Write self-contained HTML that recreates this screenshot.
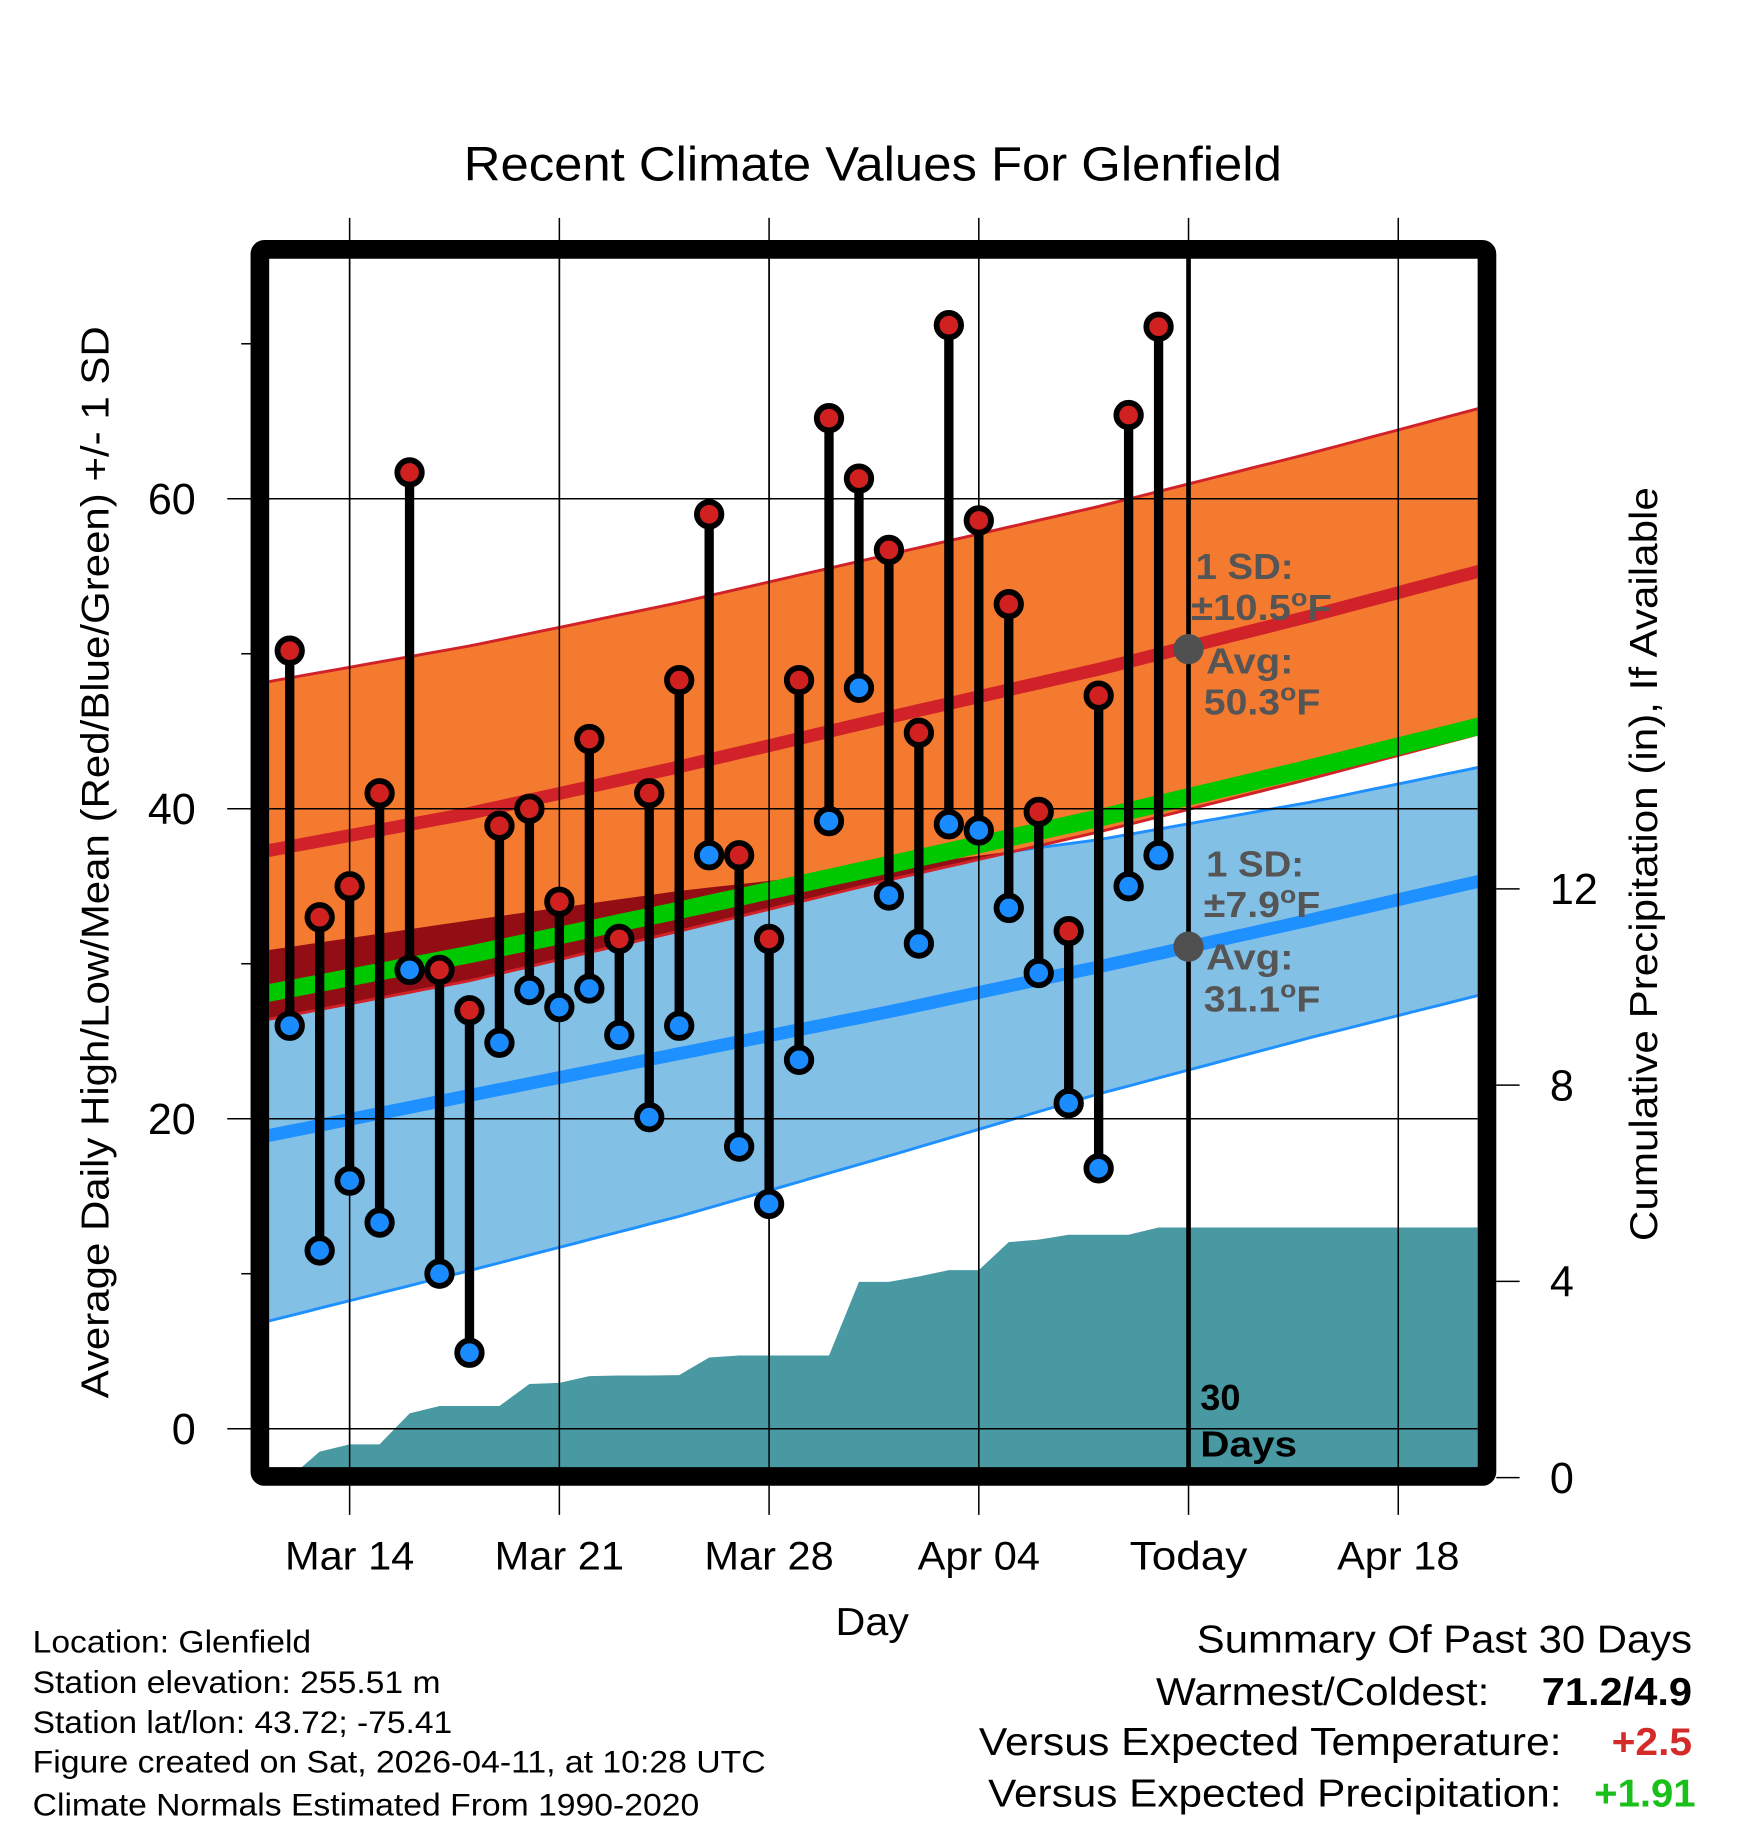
<!DOCTYPE html>
<html><head><meta charset="utf-8">
<style>
html,body{margin:0;padding:0;background:#fff;}
svg{display:block;font-family:"Liberation Sans",Arial,sans-serif;}
</style></head>
<body>
<svg id="chart" width="1748" height="1828" viewBox="0 0 1500 1568.65" preserveAspectRatio="none" xmlns="http://www.w3.org/2000/svg">
<defs>
 <clipPath id="plotClip"><rect x="231" y="218" width="1037" height="1042"/></clipPath>
 <clipPath id="blueClip"><path id="blueClipPath" d=""/></clipPath>
</defs>
<text x="398" y="155" font-size="41" textLength="702" lengthAdjust="spacingAndGlyphs">Recent Climate Values For Glenfield</text>
<g id="grid"></g>
<g id="plot" clip-path="url(#plotClip)"></g>
<g id="marks"></g>
<g id="axes"></g>
<text transform="translate(93,1200) rotate(-90)" font-size="33" textLength="920" lengthAdjust="spacingAndGlyphs">Average Daily High/Low/Mean (Red/Blue/Green) +/- 1 SD</text>
<text transform="translate(1422,1065) rotate(-90)" font-size="33" textLength="647" lengthAdjust="spacingAndGlyphs">Cumulative Precipitation (in), If Available</text>
<text x="717" y="1403" font-size="33" textLength="63" lengthAdjust="spacingAndGlyphs">Day</text>
<g font-size="27">
 <text x="28" y="1418" textLength="239" lengthAdjust="spacingAndGlyphs">Location: Glenfield</text>
 <text x="28" y="1453" textLength="350" lengthAdjust="spacingAndGlyphs">Station elevation: 255.51 m</text>
 <text x="28" y="1487" textLength="360" lengthAdjust="spacingAndGlyphs">Station lat/lon: 43.72; -75.41</text>
 <text x="28" y="1521" textLength="629" lengthAdjust="spacingAndGlyphs">Figure created on Sat, 2026-04-11, at 10:28 UTC</text>
 <text x="28" y="1558" textLength="572" lengthAdjust="spacingAndGlyphs">Climate Normals Estimated From 1990-2020</text>
</g>
<g font-size="33">
 <text x="1027" y="1418" textLength="425" lengthAdjust="spacingAndGlyphs">Summary Of Past 30 Days</text>
 <text x="992" y="1463" textLength="286" lengthAdjust="spacingAndGlyphs">Warmest/Coldest:</text>
 <text x="1323" y="1463" font-weight="bold" textLength="129" lengthAdjust="spacingAndGlyphs">71.2/4.9</text>
 <text x="840" y="1506" textLength="500" lengthAdjust="spacingAndGlyphs">Versus Expected Temperature:</text>
 <text x="1383" y="1506" font-weight="bold" fill="#d42a2a" textLength="69" lengthAdjust="spacingAndGlyphs">+2.5</text>
 <text x="848" y="1550" textLength="492" lengthAdjust="spacingAndGlyphs">Versus Expected Precipitation:</text>
 <text x="1368" y="1550" font-weight="bold" fill="#19c019" textLength="87" lengthAdjust="spacingAndGlyphs">+1.91</text>
</g>
</svg>
<script>
// ---- data ----
const highs = [50.2,33,35,41,61.7,29.6,27,38.9,40,34,44.5,31.6,41,48.3,59,37,31.6,48.3,65.2,61.3,56.7,44.9,71.2,58.6,53.2,39.8,32.1,47.3,65.4,71.1];
const lows  = [26,11.5,16,13.3,29.6,10,4.9,24.9,28.3,27.2,28.4,25.4,20.1,26,37,18.2,14.5,23.8,39.2,47.8,34.4,31.3,39,38.6,33.6,29.4,21,16.8,35,37];
const precip = [0,0.53,0.68,0.68,1.31,1.46,1.46,1.46,1.91,1.93,2.07,2.08,2.08,2.09,2.45,2.49,2.49,2.49,2.49,3.99,3.99,4.1,4.23,4.23,4.8,4.85,4.95,4.95,4.95,5.1];
// normals at knots (days after Mar 11)
const normDays = [0,7,14,21,28,35,42];
const hiMean = [37.2,39.7,42.7,45.9,49.0,52.4,56.0];
const hiSD   = [10.9,10.8,10.6,10.5,10.5,10.5,10.5];
const loMean = [18.8,21.5,24.2,26.9,29.8,32.8,35.9];
const loSD   = [12.0,11.3,10.5,9.3,8.2,7.6,7.3];
const xTickDays = [3,10,17,24,31,38];
const xTickLabels = ["Mar 14","Mar 21","Mar 28","Apr 04","Today","Apr 18"];
const yTicks = [0,20,40,60];
const yMinor = [10,30,50,70];
const pTicks = [0,4,8,12];
const firstDataDay = 1; // Mar 12
const todayDay = 31;

// ---- scales ----
const X0=222.9, DX=25.71;
const xs = d => X0 + d*DX;
const ys = v => 1226 - v*13.3;
const yp = v => 1268 - v*42.1;
const NS="http://www.w3.org/2000/svg";
function mk(tag, parent, attrs){const e=document.createElementNS(NS,tag);for(const k in attrs)e.setAttribute(k,attrs[k]);parent.appendChild(e);return e;}
const grid=document.getElementById('grid'), plot=document.getElementById('plot'), marks=document.getElementById('marks'), axes=document.getElementById('axes');

const fine=[];
for(let d=0; d<=42; d+=0.5){
  let i=Math.min(Math.floor(d/7),5); const t=(d-normDays[i])/7;
  const L=(a)=>a[i]+(a[i+1]-a[i])*t;
  fine.push({d, hm:L(hiMean), hs:L(hiSD), lm:L(loMean), ls:L(loSD)});
}
function band(f1,f2){let s='';fine.forEach((p,k)=>{s+=(k?'L':'M')+xs(p.d).toFixed(1)+','+ys(f1(p)).toFixed(1);});
  for(let k=fine.length-1;k>=0;k--){const p=fine[k];s+='L'+xs(p.d).toFixed(1)+','+ys(f2(p)).toFixed(1);}return s+'Z';}
function line(f){let s='';fine.forEach((p,k)=>{s+=(k?'L':'M')+xs(p.d).toFixed(1)+','+ys(f(p)).toFixed(1);});return s;}

let e;
e=mk('path',plot,{d:band(p=>p.lm+p.ls,p=>p.lm-p.ls),fill:'#82c0e6'});


document.getElementById('blueClipPath').setAttribute('d',band(p=>p.lm+p.ls,p=>p.lm-p.ls));
e=mk('path',plot,{d:line(p=>p.lm+p.ls),fill:'none',stroke:'#1e90ff','stroke-width':2.5});


e=mk('path',plot,{d:line(p=>p.lm-p.ls),fill:'none',stroke:'#1e90ff','stroke-width':2.5});


e=mk('path',plot,{d:band(p=>p.hm+p.hs,p=>p.hm-p.hs),fill:'#f47a30'});


e=mk('path',plot,{d:band(p=>p.hm+p.hs,p=>p.hm-p.hs),fill:'#930e14','clip-path':'url(#blueClip)'});


e=mk('path',plot,{d:line(p=>p.hm+p.hs),fill:'none',stroke:'#d02228','stroke-width':2.5});


e=mk('path',plot,{d:line(p=>p.hm-p.hs),fill:'none',stroke:'#d02228','stroke-width':2.5});


e=mk('path',plot,{d:line(p=>p.lm),fill:'none',stroke:'#1e90ff','stroke-width':11});


e=mk('path',plot,{d:line(p=>p.hm),fill:'none',stroke:'#d02228','stroke-width':11});


e=mk('path',plot,{d:line(p=>(p.hm+p.lm)/2),fill:'none',stroke:'#00c800','stroke-width':15});



let pd='M'+xs(firstDataDay).toFixed(1)+','+yp(0);
precip.forEach((v,i)=>{pd+='L'+xs(firstDataDay+i).toFixed(1)+','+yp(v).toFixed(1);});
pd+='L1300,'+yp(precip[precip.length-1]).toFixed(1)+'L1300,1300L'+xs(firstDataDay).toFixed(1)+',1300Z';
e=mk('path',plot,{d:pd,fill:'#4899a2'});



xTickDays.forEach(d=>{
  e=mk('line',grid,{x1:xs(d),x2:xs(d),y1:187,y2:1300,stroke:'#000','stroke-width':1.3});
  
  
});
yTicks.forEach(v=>{
  e=mk('line',grid,{x1:195,x2:1268,y1:ys(v),y2:ys(v),stroke:'#000','stroke-width':1.3});
  
  
});
const g2=mk('g',plot,{});
xTickDays.forEach(d=>{mk('line',g2,{x1:xs(d),x2:xs(d),y1:187,y2:1300,stroke:'#000','stroke-width':1.3});});
yTicks.forEach(v=>{mk('line',g2,{x1:195,x2:1268,y1:ys(v),y2:ys(v),stroke:'#000','stroke-width':1.3});});

e=mk('line',marks,{x1:xs(todayDay),x2:xs(todayDay),y1:218,y2:1262,stroke:'#000','stroke-width':4});



highs.forEach((h,i)=>{
  const x=xs(firstDataDay+i);
  e=mk('line',marks,{x1:x,x2:x,y1:ys(h),y2:ys(lows[i]),stroke:'#000','stroke-width':8});
  
  
});
highs.forEach((h,i)=>{
  const x=xs(firstDataDay+i);
  e=mk('circle',marks,{cx:x,cy:ys(h),r:10.5,fill:'#d02020',stroke:'#000','stroke-width':5});
  
  
  e=mk('circle',marks,{cx:x,cy:ys(lows[i]),r:10.5,fill:'#1a8cff',stroke:'#000','stroke-width':5});
  
  
});

const tx=xs(todayDay);
e=mk('circle',marks,{cx:tx,cy:ys(50.3),r:13,fill:'#505050'});


e=mk('circle',marks,{cx:tx,cy:ys(31.1),r:13,fill:'#505050'});


function ann(x,y,html,len){
  e=mk('text',marks,{x:x,y:y,'font-size':31,'font-weight':'bold',fill:'#555',textLength:len,lengthAdjust:'spacingAndGlyphs'});
  e.innerHTML=html;
  
  
}
const deg='<tspan font-size="21" dy="-12">o</tspan><tspan dy="12">F</tspan>';
ann(1026,497,'1 SD:',84);
ann(1022,532,'\u00b110.5'+deg,121);
ann(1035,578,'Avg:',75);
ann(1033,613,'50.3'+deg,100);
ann(1035,752,'1 SD:',84);
ann(1033,787,'\u00b17.9'+deg,100);
ann(1035,832,'Avg:',75);
ann(1033,868,'31.1'+deg,100);
e=mk('text',marks,{x:1030,y:1210,'font-size':31,'font-weight':'bold'});e.textContent='30';


e=mk('text',marks,{x:1030,y:1250,'font-size':31,'font-weight':'bold',textLength:83,lengthAdjust:'spacingAndGlyphs'});e.textContent='Days';



e=mk('rect',axes,{x:223,y:214,width:1053,height:1053,rx:4,fill:'none',stroke:'#000','stroke-width':16});


yTicks.forEach(v=>{
  e=mk('text',axes,{x:168,y:ys(v)+13,'font-size':37,'text-anchor':'end'});e.textContent=v;
  
  
});
yMinor.forEach(v=>{
  e=mk('line',axes,{x1:207,x2:216,y1:ys(v),y2:ys(v),stroke:'#000','stroke-width':1.3});
  
  
});
pTicks.forEach(v=>{
  e=mk('line',axes,{x1:1284,x2:1304,y1:yp(v),y2:yp(v),stroke:'#000','stroke-width':1.3});
  
  
  e=mk('text',axes,{x:1330,y:yp(v)+13,'font-size':37});e.textContent=v;
  
  
});
const xLabLen=[111,111,111,105,101,105];
xTickDays.forEach((d,i)=>{
  e=mk('text',axes,{x:xs(d)-xLabLen[i]/2,y:1347,'font-size':34,textLength:xLabLen[i],lengthAdjust:'spacingAndGlyphs'});e.textContent=xTickLabels[i];
  
  
});
</script>
</body></html>
